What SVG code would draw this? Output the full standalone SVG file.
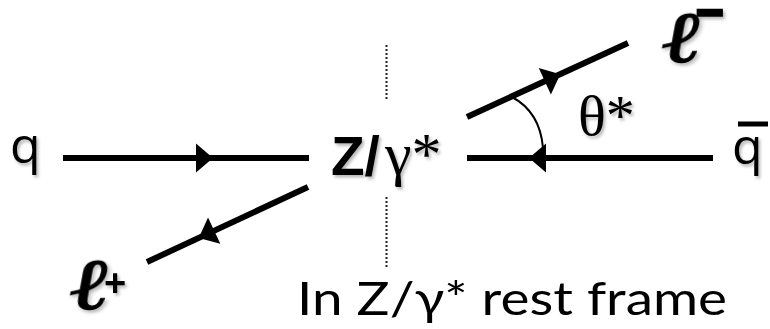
<svg xmlns="http://www.w3.org/2000/svg" width="770" height="329" viewBox="0 0 770 329">
<defs>
<filter id="sh" x="-20%" y="-20%" width="150%" height="150%">
<feDropShadow dx="2" dy="2.5" stdDeviation="1.6" flood-color="#000" flood-opacity="0.28"/>
</filter>
<polygon id="arr" points="-9,-14.5 8,0 -9,14.5" fill="#000"/>
</defs>
<style>
.lbl{fill:#000;filter:url(#sh)}
.sans{font-family:"Open Sans","Liberation Sans",sans-serif}
.bold{font-family:"Liberation Sans",sans-serif;font-weight:bold}
.serif{font-family:"Liberation Serif","DejaVu Serif",serif}
.ell{font-family:"DejaVu Serif",serif;font-weight:bold;stroke:#000;stroke-width:1.4}
.cap{font-family:Lato,"DejaVu Sans",sans-serif}
.line{stroke:#000;stroke-width:6;fill:none}
.dot{stroke:#222;stroke-width:2;stroke-dasharray:2 2;fill:none}
</style>
<g id="connectors">
<line class="line" x1="63" y1="158" x2="309" y2="158"/>
<line class="line" x1="467" y1="158" x2="713" y2="158"/>
<line class="line" x1="467" y1="117" x2="628" y2="43"/>
<line class="line" x1="308" y1="187" x2="147" y2="262"/>
<use href="#arr" transform="translate(205,158)"/>
<use href="#arr" transform="translate(537,158) rotate(180)"/>
<use href="#arr" transform="translate(553,77.5) rotate(-24.7)"/>
<use href="#arr" transform="translate(206,234.5) rotate(155)"/>
<path d="M512,97 Q540,112 543,148" stroke="#000" stroke-width="2" fill="none"/>
<line class="dot" x1="386.5" y1="45" x2="386.5" y2="101"/>
<line class="dot" x1="386.5" y1="197" x2="386.5" y2="267"/>
</g>
<g id="node-q"><text class="lbl sans" x="10" y="163" font-size="50">q</text></g>
<g id="node-qbar"><text class="lbl sans" x="732" y="164" font-size="50">q</text><rect x="738" y="121.5" width="30" height="5" fill="#000"/></g>
<g id="node-Z"><text class="lbl" y="175"><tspan class="bold" x="331" font-size="55">Z/</tspan><tspan class="serif" x="385" y="174" font-size="60">γ*</tspan></text></g>
<g id="node-theta"><text class="lbl serif" x="578" y="135" font-size="58">θ*</text></g>
<g id="node-lminus"><text class="lbl ell" font-size="72" transform="translate(660,62) scale(1.3,1) skewX(-8)">ℓ</text><text class="lbl bold" x="697" y="25" font-size="46" stroke="#000" stroke-width="3.5">–</text></g>
<g id="node-lplus"><text class="lbl ell" font-size="72" transform="translate(68,309) scale(1.3,1) skewX(-8)">ℓ</text><text class="lbl bold" x="104" y="296" font-size="38">+</text></g>
<g id="caption"><text class="cap" x="297" y="315" font-size="47" textLength="430" lengthAdjust="spacingAndGlyphs">In Z/γ* rest frame</text></g>
</svg>
